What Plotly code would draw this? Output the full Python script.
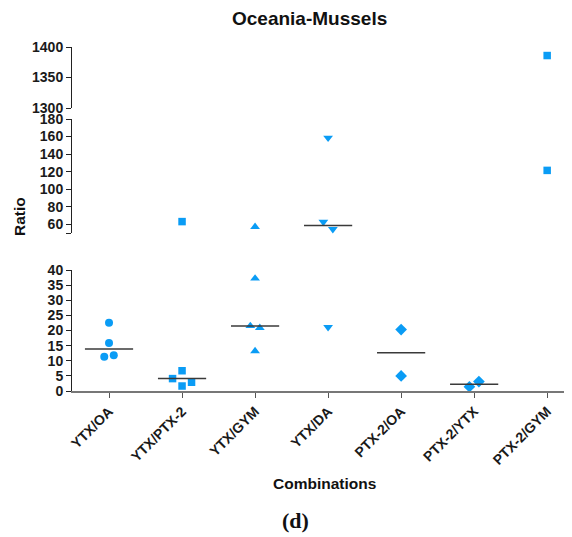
import numpy as np
import plotly.graph_objects as go

# ---------------- data ----------------
categories = ["YTX/OA", "YTX/PTX-2", "YTX/GYM", "YTX/DA", "PTX-2/OA", "PTX-2/YTX", "PTX-2/GYM"]
ytx_oa = [22.6, 15.9, 11.3, 11.8]
ytx_ptx2 = [63.0, 6.7, 4.1, 1.65, 2.9]
ytx_gym = [57.0, 37.2, 21.5, 20.9, 13.2]
ytx_da = [158.5, 62.6, 54.3, 21.1]
ptx2_oa = [20.3, 5.0]
ptx2_ytx = [1.4, 3.1]
ptx2_gym = [1386.0, 121.4]
series = [ytx_oa, ytx_ptx2, ytx_gym, ytx_da, ptx2_oa, ptx2_ytx, ptx2_gym]
symbols = ["circle", "square", "triangle-up", "triangle-down", "diamond", "diamond", "square"]

y_ticks_bottom = [0, 5, 10, 15, 20, 25, 30, 35, 40]
y_ticks_middle = [60, 80, 100, 120, 140, 160, 180]
y_ticks_top = [1300, 1350, 1400]

# ---------------- layout constants ----------------
OFF = 8  # default page body margin
W, H = 572 - OFF, 537 - OFF
ML, MR, MT, MB = 72 - OFF, 0, 47 - OFF, 146
PW, PH = W - ML - MR, H - MT - MB
COLOR = "#0A9CF5"
FONT = "Liberation Sans, Arial, sans-serif"

segments = [
    dict(name="y", axis="yaxis", rng=[0, 40], dom=[0.0, 121 / PH], ticks=y_ticks_bottom, labels=[str(v) for v in y_ticks_bottom]),
    dict(name="y2", axis="yaxis2", rng=[50, 180], dom=[158 / PH, 272 / PH], ticks=[50] + y_ticks_middle, labels=[""] + [str(v) for v in y_ticks_middle]),
    dict(name="y3", axis="yaxis3", rng=[1300, 1400], dom=[283 / PH, 1.0], ticks=y_ticks_top, labels=[str(v) for v in y_ticks_top]),
]
for s in segments:
    s["ppu"] = (s["dom"][1] - s["dom"][0]) * PH / (s["rng"][1] - s["rng"][0])

xr = [-0.507, 6.34]
px_per_cat = PW / (xr[1] - xr[0])
step = 9.5 / px_per_cat
thresh = 8.0


def seg_of(v):
    for s in segments:
        if s["rng"][0] <= v <= s["rng"][1]:
            return s
    return None


fig = go.Figure()

for ci, vals in enumerate(series):
    for s in segments:
        pts = [(i, v) for i, v in enumerate(vals) if seg_of(v) is s]
        if not pts:
            continue
        pts_sorted = sorted(pts, key=lambda p: p[1])
        rows, cur = [], [pts_sorted[0]]
        for p in pts_sorted[1:]:
            if abs(p[1] - cur[0][1]) * s["ppu"] < thresh:
                cur.append(p)
            else:
                rows.append(cur)
                cur = [p]
        rows.append(cur)
        xs, ys = [], []
        for row in rows:
            row = sorted(row, key=lambda p: p[0])
            n = len(row)
            for k, (i, v) in enumerate(row):
                xs.append(ci + (k - (n - 1) / 2) * step)
                ys.append(v)
        sym = symbols[ci]
        size = {"circle": 8, "square": 7.5, "triangle-up": 8.5, "triangle-down": 8.5, "diamond": 9}[sym]
        fig.add_trace(go.Scatter(
            x=xs, y=ys, mode="markers", yaxis=s["name"], xaxis="x",
            marker=dict(symbol=sym, size=size, color=COLOR, line=dict(width=0)),
            cliponaxis=False, showlegend=False, hoverinfo="y"))
    med = float(np.median(vals))
    s = seg_of(med)
    if s is not None:
        fig.add_trace(go.Scatter(
            x=[ci - 0.33, ci + 0.33], y=[med, med], mode="lines", yaxis=s["name"], xaxis="x",
            line=dict(color="#3a3a3a", width=1.5), showlegend=False, hoverinfo="skip"))

tickfont = dict(family=FONT, size=14, color="#1a1a1a", weight="bold")
layout = dict(
    width=W, height=H,
    margin=dict(l=ML, r=MR, t=MT, b=MB),
    plot_bgcolor="white", paper_bgcolor="white",
    xaxis=dict(range=xr, tickmode="array", tickvals=list(range(len(categories))), ticktext=categories,
               tickangle=-45, ticks="outside", ticklen=5, tickcolor="#555", showline=True,
               linecolor="#777", linewidth=1.5, showgrid=False, zeroline=False, anchor="y",
               automargin=False,
               tickfont=dict(family=FONT, size=14, color="#1a1a1a", weight="bold")),
)
for s in segments:
    layout[s["axis"]] = dict(range=s["rng"], domain=s["dom"], tickmode="array", tickvals=s["ticks"],
                             ticktext=s["labels"], ticks="outside", ticklen=5, tickcolor="#222",
                             showline=True, linecolor="#222", linewidth=1, showgrid=False,
                             zeroline=False, anchor="x", tickfont=tickfont, automargin=False)
fig.update_layout(**layout)


def px2paper(px, py):
    # px, py are screenshot coordinates
    return (px - OFF - ML) / PW, (H - MB - (py - OFF)) / PH


annos = [
    ("Oceania-Mussels", 309, 18.5, 19, 0, FONT),
    ("Ratio", 19, 217, 15.5, -90, FONT),
    ("Combinations", 324, 483, 15.5, 0, FONT),
    ("(d)", 295, 520, 22, 0, "Liberation Serif, Times New Roman, serif"),
]
for text, px, py, size, ang, fam in annos:
    ax, ay = px2paper(px, py)
    fig.add_annotation(text=text, x=ax, y=ay, xref="paper", yref="paper", showarrow=False,
                       xanchor="center", yanchor="middle", textangle=ang,
                       font=dict(family=fam, size=size, color="#111", weight="bold"))

fig.write_html("out.html")
